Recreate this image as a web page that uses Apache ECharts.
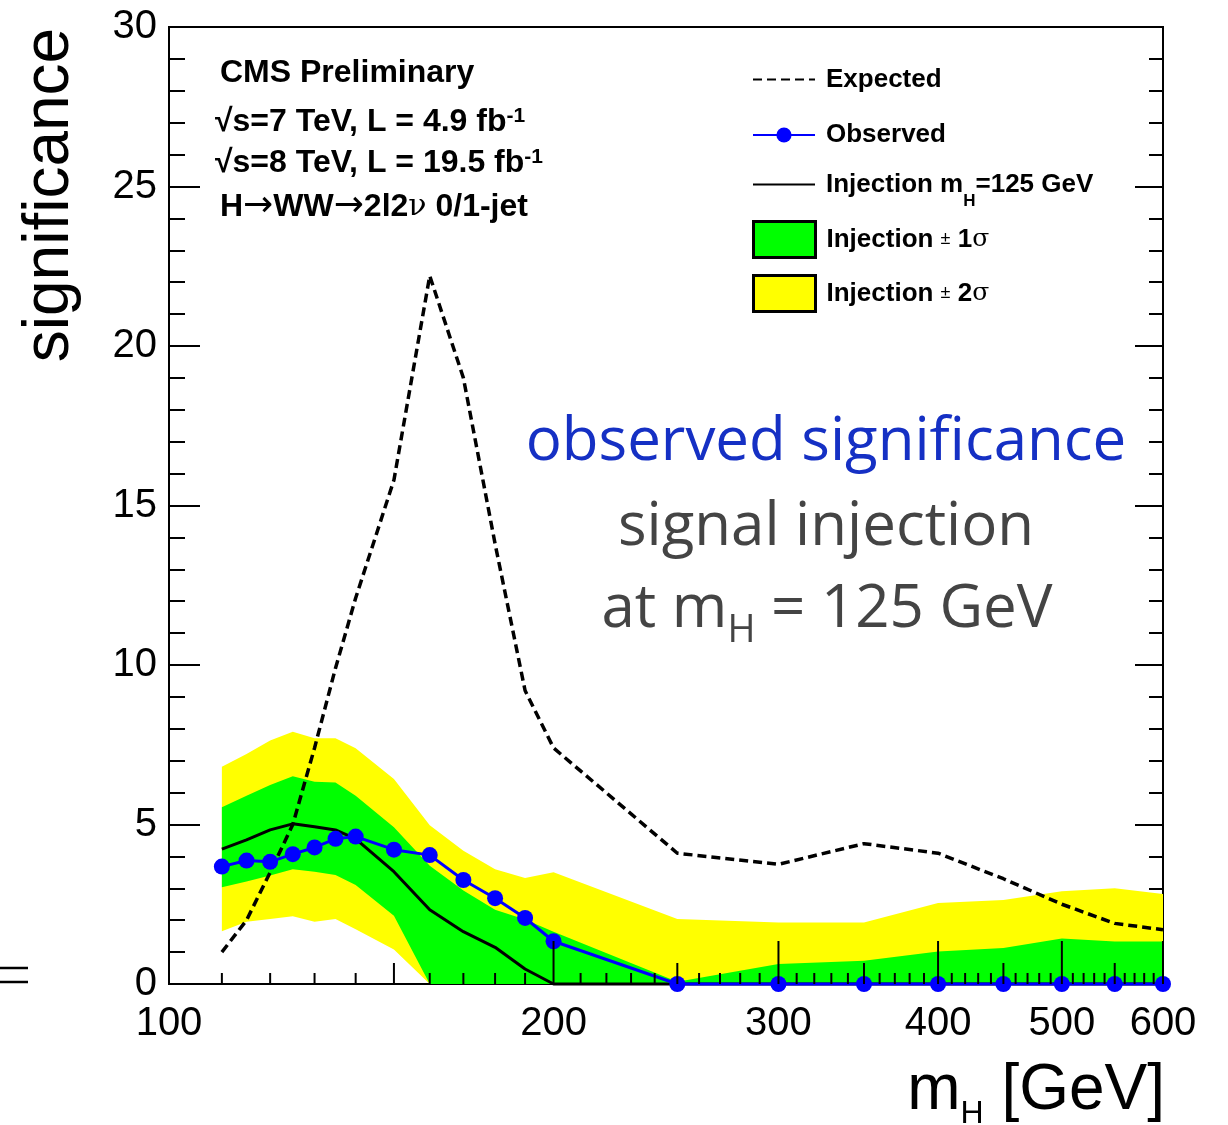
<!DOCTYPE html>
<html><head><meta charset="utf-8">
<script src="https://cdn.jsdelivr.net/npm/echarts@6/dist/echarts.min.js"></script>
<style>html,body{margin:0;padding:0;background:#fff}#c{width:1228px;height:1125px}</style>
</head><body><div id="c"></div>
<script>
// ---- data ----
const masses    = [110,115,120,125,130,135,140,150,160,170,180,190,200,250,300,350,400,450,500,550,600];
const expected  = [1.0,2.0,3.5,5.0,7.4,9.9,12.1,15.8,22.2,19.0,13.8,9.2,7.4,4.1,3.75,4.4,4.1,3.3,2.5,1.9,1.7];
const observed  = [3.68,3.87,3.83,4.07,4.28,4.55,4.62,4.21,4.04,3.26,2.69,2.07,1.34,0,0,0,0,0,0,0,0];
const injection = [4.23,4.52,4.83,5.02,4.93,4.83,4.55,3.52,2.33,1.64,1.15,0.47,0,0,0,0,0,0,0,0,0];
const inj1Hi    = [5.54,5.90,6.24,6.51,6.34,6.32,5.90,4.91,3.71,2.93,2.33,2.02,1.64,0.07,0.63,0.73,1.02,1.13,1.43,1.33,1.33];
const inj1Lo    = [3.03,3.21,3.40,3.60,3.52,3.42,3.10,2.14,0,0,0,0,0,0,0,0,0,0,0,0,0];
const inj2Hi    = [6.81,7.21,7.63,7.91,7.70,7.70,7.39,6.43,4.98,4.18,3.60,3.32,3.50,2.04,1.93,1.93,2.54,2.63,2.91,3.00,2.82];
const inj2Lo    = [1.65,1.95,2.04,2.12,1.95,2.04,1.72,1.08,0,0,0,0,0,0,0,0,0,0,0,0,0];
const xTickLabels = [100,200,300,400,500,600];
const xMidTicks   = [150,250,350,450,550];
const yTickLabels = [0,5,10,15,20,25,30];

const xMinorTicks = [];
for (let v = 110; v < 600; v += 10) {
  if (xTickLabels.indexOf(v) < 0 && xMidTicks.indexOf(v) < 0) xMinorTicks.push(v);
}

const FONT = '"Liberation Sans", Arial, Helvetica, sans-serif';
const chart = echarts.init(document.getElementById('c'));

function band(name, lo, hi, color) {
  return {
    type: 'custom', name: name, z: 1, clip: true,
    itemStyle: { color: color },
    encode: { x: 0, y: [1, 2] },
    data: masses.map((m, i) => [m, lo[i], hi[i]]),
    renderItem: function (params, api) {
      if (params.dataIndex !== 0) return null;
      const pts = [];
      for (let i = 0; i < masses.length; i++) pts.push(api.coord([masses[i], hi[i]]));
      for (let i = masses.length - 1; i >= 0; i--) pts.push(api.coord([masses[i], lo[i]]));
      return { type: 'polygon', shape: { points: pts }, style: { fill: color, stroke: null } };
    }
  };
}

function tickSeries(vals, len, withLabel) {
  return {
    type: 'custom', z: 10, clip: false, silent: true,
    data: vals.map(v => [v, 0]),
    encode: { x: 0, y: 1 },
    renderItem: function (params, api) {
      const v = api.value(0);
      const p = api.coord([v, 0]);
      const children = [{
        type: 'line',
        shape: { x1: p[0], y1: p[1], x2: p[0], y2: p[1] - len },
        style: { stroke: '#000', lineWidth: 2 }
      }];
      if (withLabel) {
        children.push({
          type: 'text', x: p[0], y: p[1] + 40,
          style: { text: String(v), fill: '#000', fontSize: 40, fontFamily: FONT, align: 'center', verticalAlign: 'middle' }
        });
      }
      return { type: 'group', children: children };
    }
  };
}

const legendLabel = {
  'Expected': '{b|Expected}',
  'Observed': '{b|Observed}',
  'Injection': '{b|Injection m}{s|H}{b|=125 GeV}',
  'Injection ± 1σ': '{b|Injection }{pm|±}{b| 1}{g|σ}',
  'Injection ± 2σ': '{b|Injection }{pm|±}{b| 2}{g|σ}'
};
const legendRich = {
  b: { fontSize: 26, fontWeight: 'bold', fontFamily: FONT, color: '#000', lineHeight: 36 },
  s: { fontSize: 17, fontWeight: 'bold', fontFamily: FONT, color: '#000', lineHeight: 51, verticalAlign: 'bottom' },
  pm: { fontSize: 18, fontFamily: FONT, color: '#000', lineHeight: 36 },
  g: { fontSize: 25, fontFamily: '"DejaVu Serif", serif', color: '#000', lineHeight: 36 }
};
function legendRow(item, top, itemHeight) {
  return {
    orient: 'vertical', left: 752, top: top, itemWidth: 62, itemHeight: itemHeight,
    padding: 0, selectedMode: false,
    formatter: name => legendLabel[name],
    textStyle: { padding: [0, 0, 0, 6], rich: legendRich },
    data: [item]
  };
}

const option = {
  animation: false,
  backgroundColor: '#fff',
  grid: { left: 169, top: 27, width: 994, height: 957, show: true, borderColor: '#000', borderWidth: 2,
          backgroundColor: 'transparent', outerBoundsMode: 'none', containLabel: false },
  xAxis: {
    type: 'log', logBase: 10, min: 100, max: 600,
    axisLine: { show: true, lineStyle: { color: '#000', width: 2 } },
    axisTick: { show: false }, axisLabel: { show: false },
    splitLine: { show: false }, minorTick: { show: false }, minorSplitLine: { show: false }
  },
  yAxis: [{
    type: 'value', min: 0, max: 30, interval: 5, position: 'left',
    axisLine: { show: true, lineStyle: { color: '#000', width: 2 } },
    axisTick: { show: true, inside: true, length: 31, lineStyle: { color: '#000', width: 2 } },
    minorTick: { show: true, splitNumber: 5, length: 16, lineStyle: { color: '#000', width: 2 } },
    splitLine: { show: false },
    axisLabel: { color: '#000', fontSize: 40, fontFamily: FONT, margin: 12,
      customValues: yTickLabels, formatter: v => String(v) }
  }, {
    type: 'value', min: 0, max: 30, interval: 5, position: 'right',
    axisLine: { show: true, lineStyle: { color: '#000', width: 2 } },
    axisTick: { show: true, inside: true, length: 28, lineStyle: { color: '#000', width: 2 } },
    minorTick: { show: true, splitNumber: 5, length: 14, lineStyle: { color: '#000', width: 2 } },
    splitLine: { show: false }, axisLabel: { show: false }
  }],
  legend: [
    legendRow({ name: 'Expected', itemStyle: { opacity: 0 } }, 65, 36),
    legendRow({ name: 'Observed' }, 122, 19),
    legendRow({ name: 'Injection', itemStyle: { opacity: 0 } }, 170, 36),
    legendRow({ name: 'Injection ± 1σ', icon: 'rect', itemStyle: { color: '#00ff00', borderColor: '#000', borderWidth: 3 } }, 220, 36),
    legendRow({ name: 'Injection ± 2σ', icon: 'rect', itemStyle: { color: '#ffff00', borderColor: '#000', borderWidth: 3 } }, 274, 36)
  ],
  series: [
    band('Injection ± 2σ', inj2Lo, inj2Hi, '#ffff00'),
    band('Injection ± 1σ', inj1Lo, inj1Hi, '#00ff00'),
    {
      type: 'line', name: 'Expected', z: 3, symbol: 'none', clip: true,
      data: masses.map((m, i) => [m, expected[i]]),
      lineStyle: { color: '#000', width: 3.5, type: [9, 5] },
      itemStyle: { color: '#000' }
    },
    {
      type: 'line', name: 'Injection', z: 3, symbol: 'none', clip: false,
      data: masses.map((m, i) => [m, injection[i]]),
      lineStyle: { color: '#000', width: 3 },
      itemStyle: { color: '#000' }
    },
    {
      type: 'line', name: 'Observed', z: 4, symbol: 'circle', symbolSize: 16, clip: false,
      data: masses.map((m, i) => [m, observed[i]]),
      lineStyle: { color: '#0000ff', width: 3 },
      itemStyle: { color: '#0000ff' }
    },
    tickSeries(xMinorTicks, 11, false),
    tickSeries(xMidTicks, 21, false),
    tickSeries(xTickLabels, 43, true)
  ],
  graphic: [
    { type: 'text', x: 50, y: 195, rotation: Math.PI / 2,
      style: { text: 'significance', fontSize: 64, fontFamily: FONT, fill: '#000', align: 'center', verticalAlign: 'middle' } },
    { type: 'text', x: 1165, y: 1091,
      style: { text: '{a|m}{s|H}{a| [GeV]}', align: 'right', verticalAlign: 'middle',
        rich: { a: { fontSize: 64, fontFamily: FONT, fill: '#000', lineHeight: 64 },
                s: { fontSize: 32, fontFamily: FONT, fill: '#000', lineHeight: 78, verticalAlign: 'bottom' } } } },
    { type: 'text', x: 220, y: 73,
      style: { text: 'CMS Preliminary', fontSize: 32, fontWeight: 'bold', fontFamily: FONT, fill: '#000', align: 'left', verticalAlign: 'middle' } },
    { type: 'text', x: 215, y: 122,
      style: { text: '{a|√s=7 TeV, L = 4.9 fb}{u|-1}', align: 'left', verticalAlign: 'middle',
        rich: { a: { fontSize: 32, fontWeight: 'bold', fontFamily: FONT, fill: '#000' },
                u: { fontSize: 21, fontWeight: 'bold', fontFamily: FONT, fill: '#000', verticalAlign: 'top' } } } },
    { type: 'text', x: 215, y: 163,
      style: { text: '{a|√s=8 TeV, L = 19.5 fb}{u|-1}', align: 'left', verticalAlign: 'middle',
        rich: { a: { fontSize: 32, fontWeight: 'bold', fontFamily: FONT, fill: '#000' },
                u: { fontSize: 21, fontWeight: 'bold', fontFamily: FONT, fill: '#000', verticalAlign: 'top' } } } },
    { type: 'text', x: 220, y: 207,
      style: { text: '{a|H}{r|→}{a|WW}{r|→}{a|2l2}{g|ν}{a| 0/1-jet}', align: 'left', verticalAlign: 'middle',
        rich: { a: { fontSize: 32, fontWeight: 'bold', fontFamily: FONT, fill: '#000' },
                r: { fontSize: 36, fontFamily: '"DejaVu Sans", sans-serif', fill: '#000' },
                g: { fontSize: 30, fontFamily: '"DejaVu Serif", serif', fill: '#000' } } } },
    { type: 'text', x: 826, y: 443,
      style: { text: 'observed significance', fontSize: 60, fontFamily: '"Open Sans", sans-serif', fill: '#1530c4', align: 'center', verticalAlign: 'middle' } },
    { type: 'text', x: 826, y: 528,
      style: { text: 'signal injection', fontSize: 60, fontFamily: '"Open Sans", sans-serif', fill: '#444', align: 'center', verticalAlign: 'middle' } },
    { type: 'text', x: 827, y: 610,
      style: { text: '{a|at m}{s|H}{a| = 125 GeV}', align: 'center', verticalAlign: 'middle',
        rich: { a: { fontSize: 60, fontFamily: '"Open Sans", sans-serif', fill: '#444', lineHeight: 60 },
                s: { fontSize: 38, fontFamily: '"Open Sans", sans-serif', fill: '#444', lineHeight: 80, verticalAlign: 'bottom' } } } },
    { type: 'line', shape: { x1: 0, y1: 968, x2: 28, y2: 968 }, style: { stroke: '#000', lineWidth: 2.5 } },
    { type: 'line', shape: { x1: 0, y1: 982, x2: 28, y2: 982 }, style: { stroke: '#000', lineWidth: 2.5 } }
  ]
};
chart.setOption(option);
</script>
</body></html>
